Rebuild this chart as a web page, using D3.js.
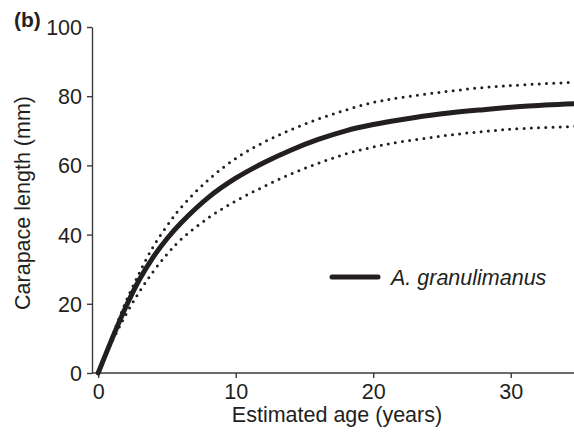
<!DOCTYPE html>
<html>
<head>
<meta charset="utf-8">
<script src="https://cdn.jsdelivr.net/npm/d3@7"></script>
<style>
  body { margin: 0; background: #fff; }
  svg { display: block; font-family: "Liberation Sans", Arial, sans-serif; }
</style>
</head>
<body>
<svg width="574" height="432"></svg>
<script>
var ages = [0, 1, 2, 3, 4, 5, 6, 8, 10, 12, 14, 16, 18, 20, 22, 25, 28, 31, 35];
var fitted = [0, 9.8, 19, 27, 33.5, 38.8, 43.3, 50.7, 56.3, 60.7, 64.4, 67.5, 70, 71.8, 73.2, 74.9, 76.1, 77.1, 77.9];
var upper  = [0, 10.5, 20.5, 29, 36.5, 42.5, 47.7, 55.8, 62, 66.6, 70.3, 73.4, 76, 78.2, 79.6, 81.2, 82.5, 83.3, 84.1];
var lower  = [0, 9, 16.8, 23.5, 29.3, 34.3, 38.5, 44.8, 49.7, 53.8, 57.5, 60.6, 63.3, 65.3, 66.8, 68.5, 69.8, 70.7, 71.3];
var xTicks = [0, 10, 20, 30];
var yTicks = [0, 20, 40, 60, 80, 100];
var seriesName = "A. granulimanus";

var svg = d3.select("svg"),
    ink = "#231f20";

var x = d3.scaleLinear().domain([-0.45, 34.6]).range([92, 574]);
var y = d3.scaleLinear().domain([0, 100]).range([373, 27]);

// axes
var xAxis = svg.append("g")
    .attr("transform", "translate(0,373)")
    .call(d3.axisBottom(x).tickValues(xTicks).tickSize(5).tickSizeOuter(0).tickFormat(d3.format("d")));
xAxis.select(".domain").attr("d", "M92,0H574");

var yAxis = svg.append("g")
    .attr("transform", "translate(92,0)")
    .call(d3.axisLeft(y).tickValues(yTicks).tickSize(5).tickSizeOuter(0));

svg.selectAll(".domain, .tick line").attr("stroke", "#3a3a3a").attr("stroke-width", 1.4);
svg.selectAll(".tick text").attr("fill", ink).style("font-size", "21.5px").style("font-family", "Liberation Sans, Arial, sans-serif");
xAxis.selectAll(".tick text").attr("dy", 0).attr("y", 26);
yAxis.selectAll(".tick text").attr("x", -10).attr("dy", "0.35em");

// axis titles
svg.append("text")
    .attr("x", 337).attr("y", 422)
    .attr("text-anchor", "middle")
    .attr("fill", ink)
    .style("font-size", "21.5px")
    .text("Estimated age (years)");

svg.append("text")
    .attr("transform", "translate(30,203) rotate(-90)")
    .attr("text-anchor", "middle")
    .attr("fill", ink)
    .style("font-size", "21.5px")
    .text("Carapace length (mm)");

svg.append("text")
    .attr("x", 14).attr("y", 27)
    .attr("fill", ink)
    .style("font-size", "21px")
    .style("font-weight", "bold")
    .text("(b)");

// curves
var line = d3.line()
    .x(function(d) { return x(d[0]); })
    .y(function(d) { return y(d[1]); })
    .curve(d3.curveCatmullRom);

function pts(vals) { return ages.map(function(a, i) { return [a, vals[i]]; }); }

[upper, lower].forEach(function(v) {
  svg.append("path")
    .attr("d", line(pts(v)))
    .attr("fill", "none")
    .attr("stroke", ink)
    .attr("stroke-width", 3)
    .attr("stroke-linecap", "round")
    .attr("stroke-dasharray", "0,7.2");
});

svg.append("path")
    .attr("d", line(pts(fitted)))
    .attr("fill", "none")
    .attr("stroke", ink)
    .attr("stroke-width", 5)
    .attr("stroke-linecap", "round");

// legend
svg.append("line")
    .attr("x1", 332).attr("x2", 378)
    .attr("y1", 277).attr("y2", 277)
    .attr("stroke", ink)
    .attr("stroke-width", 5)
    .attr("stroke-linecap", "round");

svg.append("text")
    .attr("x", 391).attr("y", 285)
    .attr("fill", ink)
    .style("font-size", "21.5px")
    .style("font-style", "italic")
    .text(seriesName);
</script>
</body>
</html>
